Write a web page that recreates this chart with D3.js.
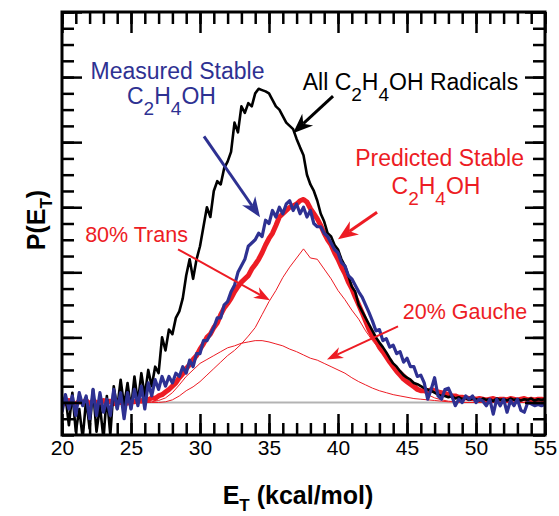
<!DOCTYPE html>
<html>
<head>
<meta charset="utf-8">
<script src="https://cdn.jsdelivr.net/npm/d3@7"></script>
<style>
  body { margin: 0; background: #fff; }
  svg { display: block; font-family: 'Liberation Sans', Arial, sans-serif; }
</style>
</head>
<body>
<script>
// energy grid for the measured curves, kcal/mol (0.25 steps)
const eFine = [
  20, 20.25, 20.5, 20.75, 21, 21.25, 21.5, 21.75, 22, 22.25, 22.5, 22.75,
  23, 23.25, 23.5, 23.75, 24, 24.25, 24.5, 24.75, 25, 25.25, 25.5, 25.75,
  26, 26.25, 26.5, 26.75, 27, 27.25, 27.5, 27.75, 28, 28.25, 28.5, 28.75,
  29, 29.25, 29.5, 29.75, 30, 30.25, 30.5, 30.75, 31, 31.25, 31.5, 31.75,
  32, 32.25, 32.5, 32.75, 33, 33.25, 33.5, 33.75, 34, 34.25, 34.5, 34.75,
  35, 35.25, 35.5, 35.75, 36, 36.25, 36.5, 36.75, 37, 37.25, 37.5, 37.75,
  38, 38.25, 38.5, 38.75, 39, 39.25, 39.5, 39.75, 40, 40.25, 40.5, 40.75,
  41, 41.25, 41.5, 41.75, 42, 42.25, 42.5, 42.75, 43, 43.25, 43.5, 43.75,
  44, 44.25, 44.5, 44.75, 45, 45.25, 45.5, 45.75, 46, 46.25, 46.5, 46.75,
  47, 47.25, 47.5, 47.75, 48, 48.25, 48.5, 48.75, 49, 49.25, 49.5, 49.75,
  50, 50.25, 50.5, 50.75, 51, 51.25, 51.5, 51.75, 52, 52.25, 52.5, 52.75,
  53, 53.25, 53.5, 53.75, 54, 54.25, 54.5, 54.75, 55
]

// grid for the two smooth predicted components (0.5 steps)
const eCoarse = [
  20, 20.5, 21, 21.5, 22, 22.5, 23, 23.5, 24, 24.5, 25, 25.5, 26, 26.5,
  27, 27.5, 28, 28.5, 29, 29.5, 30, 30.5, 31, 31.5, 32, 32.5, 33, 33.5,
  34, 34.5, 35, 35.5, 36, 36.5, 37, 37.5, 38, 38.5, 39, 39.5, 40, 40.5,
  41, 41.5, 42, 42.5, 43, 43.5, 44, 44.5, 45, 45.5, 46, 46.5, 47, 47.5,
  48, 48.5, 49, 49.5, 50, 50.5, 51, 51.5, 52, 52.5, 53, 53.5, 54, 54.5, 55
]

const allRadicals = [
  -0.10, 0.10, -0.35, 0.15,
  -0.45, -0.10, -0.55, 0.05,
  -0.40, 0.20, -0.45, -0.05,
  -0.55, 0.10, -0.50, 0.25,
  -0.10, 0.35, -0.05, 0.30,
  -0.10, 0.40, 0.00, 0.45,
  0.10, 0.50, 0.25, 0.55,
  0.45, 1.00, 0.80, 1.12,
  1.05, 1.30, 1.40, 1.60,
  1.95, 2.20, 1.90, 2.20,
  2.40, 2.70, 3.00, 2.85,
  3.25, 3.40, 3.35, 3.60,
  3.70, 3.85, 4.30, 4.15,
  4.55, 4.45, 4.60, 4.55,
  4.75, 4.82, 4.80, 4.78,
  4.75, 4.65, 4.55, 4.50,
  4.40, 4.30, 4.25, 4.20,
  4.05, 3.92, 3.80, 3.50,
  3.35, 3.25, 3.10, 2.90,
  2.78, 2.60, 2.55, 2.42,
  2.35, 2.20, 2.10, 1.95,
  1.78, 1.70, 1.50, 1.40,
  1.30, 1.20, 1.10, 1.00,
  0.92, 0.85, 0.77, 0.68,
  0.60, 0.55, 0.48, 0.42,
  0.38, 0.35, 0.30, 0.28,
  0.25, 0.22, 0.20, 0.18,
  0.15, 0.12, 0.10, 0.10,
  0.08, 0.10, 0.06, 0.08,
  0.05, 0.07, 0.04, 0.06,
  0.05, 0.03, 0.06, 0.04,
  0.05, 0.02, 0.06, 0.04,
  0.05, 0.03, 0.06, 0.04,
  0.05, 0.03, 0.05, 0.04,
  0.06, 0.03, 0.05, 0.04,
  0.05
]

const measuredStable = [
  -0.15, 0.12, -0.10, 0.10,
  -0.20, 0.15, -0.05, 0.10,
  -0.25, 0.20, -0.20, 0.15,
  -0.15, 0.05, -0.20, 0.20,
  -0.10, 0.15, -0.25, 0.15,
  -0.10, 0.20, -0.05, 0.25,
  -0.10, 0.30, 0.10, 0.35,
  0.20, 0.40, 0.25, 0.40,
  0.30, 0.45, 0.40, 0.55,
  0.45, 0.65, 0.55, 0.75,
  0.75, 0.95, 0.95, 1.05,
  1.15, 1.30, 1.30, 1.50,
  1.55, 1.70, 1.80, 2.00,
  2.10, 2.20, 2.40, 2.45,
  2.50, 2.60, 2.55, 2.80,
  2.75, 2.95, 2.85, 3.00,
  2.90, 3.05, 3.10, 2.95,
  3.05, 2.90, 3.00, 2.85,
  2.95, 2.75, 2.70, 2.70,
  2.60, 2.55, 2.45, 2.35,
  2.30, 2.15, 2.10, 1.95,
  1.90, 1.80, 1.70, 1.62,
  1.50, 1.38, 1.25, 1.10,
  1.12, 0.95, 0.98, 0.85,
  0.88, 0.75, 0.78, 0.62,
  0.68, 0.55, 0.55, 0.40,
  0.42, 0.30, 0.05, 0.20,
  0.38, 0.10, 0.05, 0.20,
  0.22, 0.10, -0.05, 0.05,
  0.00, 0.10, 0.05, 0.10,
  0.00, 0.05, 0.02, -0.05,
  0.05, -0.18, 0.05, -0.05,
  0.05, -0.15, 0.03, -0.05,
  0.05, -0.12, -0.15, 0.00,
  -0.02, -0.05, -0.03, -0.05,
  -0.03
]

const predictedStable = [
  0.02, -0.02, 0.03, 0.00,
  -0.03, 0.02, 0.00, 0.03,
  -0.02, 0.02, 0.00, -0.02,
  0.03, 0.00, 0.02, -0.02,
  0.03, 0.00, 0.02, -0.01,
  0.03, 0.01, 0.04, 0.02,
  0.05, 0.04, 0.07, 0.06,
  0.10, 0.12, 0.16, 0.20,
  0.25, 0.30, 0.38, 0.44,
  0.52, 0.58, 0.66, 0.72,
  0.82, 0.90, 1.00, 1.05,
  1.15, 1.22, 1.35, 1.45,
  1.52, 1.60, 1.70, 1.78,
  1.85, 1.90, 1.95, 2.05,
  2.12, 2.20, 2.30, 2.42,
  2.52, 2.60, 2.72, 2.85,
  2.90, 2.95, 3.00, 3.02,
  3.05, 3.10, 3.12, 3.08,
  2.98, 2.90, 2.82, 2.72,
  2.60, 2.50, 2.42, 2.30,
  2.20, 2.08, 1.98, 1.85,
  1.75, 1.62, 1.50, 1.38,
  1.25, 1.12, 1.02, 0.95,
  0.85, 0.78, 0.70, 0.62,
  0.55, 0.48, 0.42, 0.36,
  0.32, 0.28, 0.24, 0.20,
  0.18, 0.18, 0.16, 0.20,
  0.18, 0.16, 0.15, 0.14,
  0.12, 0.10, 0.10, 0.08,
  0.08, 0.07, 0.06, 0.06,
  0.05, 0.06, 0.05, 0.04,
  0.05, 0.06, 0.04, 0.05,
  0.05, 0.04, 0.06, 0.05,
  0.04, 0.05, 0.06, 0.04,
  0.05, 0.04, 0.05, 0.05,
  0.04
]

const trans80 = [
  0, 0, 0, 0, 0, 0, 0, 0, 0, 0, 0, 0, 0, 0,
  0, 0.01, 0.04, 0.10, 0.18, 0.24, 0.32, 0.42, 0.52, 0.62, 0.72, 0.80, 0.90, 1.02,
  1.15, 1.35, 1.55, 1.72, 1.92, 2.08, 2.22, 2.36, 2.22, 2.20, 2.05, 1.90, 1.72, 1.58,
  1.42, 1.28, 1.10, 0.95, 0.82, 0.72, 0.60, 0.50, 0.40, 0.30, 0.20, 0.12, 0.07, 0.04,
  0.02, 0.01, 0, 0, 0, 0, 0, 0, 0, 0, 0, 0, 0, 0, 0
]

const gauche20 = [
  0, 0, 0, 0, 0, 0, 0, 0, 0, 0, 0, 0, 0, 0.01,
  0.03, 0.07, 0.15, 0.27, 0.40, 0.50, 0.60, 0.66, 0.72, 0.78, 0.84, 0.87, 0.91, 0.93,
  0.95, 0.95, 0.93, 0.90, 0.87, 0.82, 0.78, 0.73, 0.68, 0.65, 0.60, 0.55, 0.50, 0.45,
  0.38, 0.32, 0.27, 0.22, 0.18, 0.15, 0.12, 0.10, 0.08, 0.06, 0.05, 0.04, 0.03, 0.02,
  0.01, 0.01, 0, 0, 0, 0, 0, 0, 0, 0, 0, 0, 0, 0, 0
]

const xTickLabels = [20, 25, 30, 35, 40, 45, 50, 55]

//colours
const blue = '#2e3192'
const red = '#ed1c24'

//dimensions of svg and plot frame
const width = 559
const height = 516
const frameLeft = 62
const frameRight = 545
const frameTop = 12
const frameBottom = 435

const xScale = d3.scaleLinear()
  .domain([20, 55])
  .range([frameLeft, frameRight])

const yScale = d3.scaleLinear()
  .domain([-0.5, 6])
  .range([frameBottom, frameTop])

let svg = d3.select('body')
  .append('svg')
  .attr('width', width)
  .attr('height', height)

svg.append('rect')
  .attr('width', width)
  .attr('height', height)
  .attr('fill', '#fff')

svg.append('clipPath')
  .attr('id', 'plot')
  .append('rect')
  .attr('x', frameLeft)
  .attr('y', frameTop)
  .attr('width', frameRight - frameLeft)
  .attr('height', frameBottom - frameTop)

const plot = svg.append('g').attr('clip-path', 'url(#plot)')

//zero line
plot.append('line')
  .attr('x1', xScale(20))
  .attr('x2', xScale(55))
  .attr('y1', yScale(0))
  .attr('y2', yScale(0))
  .attr('stroke', '#b3b3b3')
  .attr('stroke-width', 2)

const fineLine = d3.line()
  .x((d, i) => xScale(eFine[i]))
  .y((d) => yScale(d))

const coarseLine = d3.line()
  .x((d, i) => xScale(eCoarse[i]))
  .y((d) => yScale(d))

const drawCurve = (data, gen, color, w) => {
  plot.append('path')
    .datum(data)
    .attr('d', gen)
    .attr('fill', 'none')
    .attr('stroke', color)
    .attr('stroke-width', w)
    .attr('stroke-linejoin', 'round')
}

drawCurve(gauche20, coarseLine, red, 1)
drawCurve(trans80, coarseLine, red, 1)
drawCurve(predictedStable, fineLine, red, 5)
drawCurve(allRadicals, fineLine, '#000', 2.6)
drawCurve(measuredStable, fineLine, blue, 3.2)

//ticks pointing into the frame on all four sides
const tickStyle = (g) => {
  g.select('.domain').remove()
  g.selectAll('line').attr('stroke', '#000').attr('stroke-width', 2.5)
}

svg.append('g')
  .attr('transform', 'translate(0,' + frameBottom + ')')
  .call(d3.axisBottom(xScale).ticks(35).tickSize(-12).tickFormat(''))
  .call(tickStyle)
svg.append('g')
  .attr('transform', 'translate(0,' + frameBottom + ')')
  .call(d3.axisBottom(xScale).tickValues(xTickLabels).tickSize(-21).tickFormat(''))
  .call(tickStyle)
svg.append('g')
  .attr('transform', 'translate(0,' + frameTop + ')')
  .call(d3.axisTop(xScale).ticks(35).tickSize(-12).tickFormat(''))
  .call(tickStyle)
svg.append('g')
  .attr('transform', 'translate(0,' + frameTop + ')')
  .call(d3.axisTop(xScale).tickValues(xTickLabels).tickSize(-21).tickFormat(''))
  .call(tickStyle)

const yMinor = d3.range(-0.5, 6.01, 0.25)
const yMajor = d3.range(0, 6.01, 1)

svg.append('g')
  .attr('transform', 'translate(' + frameLeft + ',0)')
  .call(d3.axisLeft(yScale).tickValues(yMinor).tickSize(-12).tickFormat(''))
  .call(tickStyle)
svg.append('g')
  .attr('transform', 'translate(' + frameLeft + ',0)')
  .call(d3.axisLeft(yScale).tickValues(yMajor).tickSize(-20).tickFormat(''))
  .call(tickStyle)
svg.append('g')
  .attr('transform', 'translate(' + frameRight + ',0)')
  .call(d3.axisRight(yScale).tickValues(yMinor).tickSize(-12).tickFormat(''))
  .call(tickStyle)
svg.append('g')
  .attr('transform', 'translate(' + frameRight + ',0)')
  .call(d3.axisRight(yScale).tickValues(yMajor).tickSize(-20).tickFormat(''))
  .call(tickStyle)

//tick labels
svg.append('g')
  .attr('transform', 'translate(0,' + frameBottom + ')')
  .call(d3.axisBottom(xScale).tickValues(xTickLabels).tickSize(0).tickPadding(5))
  .call((g) => g.select('.domain').remove())
  .selectAll('text')
  .attr('font-family', "'Liberation Sans', Arial, sans-serif")
  .attr('font-size', '21px')
  .attr('fill', '#000')

//frame
svg.append('rect')
  .attr('x', frameLeft)
  .attr('y', frameTop)
  .attr('width', frameRight - frameLeft)
  .attr('height', frameBottom - frameTop)
  .attr('fill', 'none')
  .attr('stroke', '#000')
  .attr('stroke-width', 3)

//axis titles
let xTitle = svg.append('text')
  .attr('x', 298)
  .attr('y', 504)
  .attr('text-anchor', 'middle')
  .attr('font-weight', 'bold')
  .attr('font-size', '25px')
xTitle.append('tspan').text('E')
xTitle.append('tspan').attr('font-size', '17px').attr('dy', 7).text('T')
xTitle.append('tspan').attr('dy', -7).text(' (kcal/mol)')

let yTitle = svg.append('text')
  .attr('transform', 'translate(45,220) rotate(-90)')
  .attr('text-anchor', 'middle')
  .attr('font-weight', 'bold')
  .attr('font-size', '25px')
yTitle.append('tspan').text('P(E')
yTitle.append('tspan').attr('font-size', '17px').attr('dy', 7).text('T')
yTitle.append('tspan').attr('dy', -7).text(')')

//annotations, placed in data units; numbers in the list are subscripts
const label = (parts, e, p, color, size) => {
  let t = svg.append('text')
    .attr('x', xScale(e))
    .attr('y', yScale(p))
    .attr('text-anchor', 'middle')
    .attr('font-size', size + 'px')
    .attr('fill', color)
  let down = false
  parts.forEach((s) => {
    if (typeof s === 'number') {
      t.append('tspan').attr('dy', down ? 0 : 11).attr('font-size', (size - 4) + 'px').text(String(s))
      down = true
    } else {
      t.append('tspan').attr('dy', down ? -11 : 0).text(s)
      down = false
    }
  })
}

label(['Measured Stable'], 28.37, 4.97, blue, 23)
label(['C', 2, 'H', 4, 'OH'], 27.93, 4.585, blue, 23)
label(['All C', 2, 'H', 4, 'OH Radicals'], 45.25, 4.8, '#000', 23)
label(['Predicted Stable'], 47.36, 3.63, red, 23)
label(['C', 2, 'H', 4, 'OH'], 47.1, 3.2, red, 23)
label(['80% Trans'], 25.4, 2.46, red, 21.5)
label(['20% Gauche'], 49.2, 1.29, red, 21.5)

const arrow = (e0, p0, e1, p1, color, w, len, half) => {
  const x0 = xScale(e0), y0 = yScale(p0)
  const x1 = xScale(e1), y1 = yScale(p1)
  const ang = Math.atan2(y1 - y0, x1 - x0)
  const ux = Math.cos(ang), uy = Math.sin(ang)
  const nx = -uy, ny = ux
  svg.append('line')
    .attr('x1', x0).attr('y1', y0)
    .attr('x2', x1 - ux * len * 0.7).attr('y2', y1 - uy * len * 0.7)
    .attr('stroke', color)
    .attr('stroke-width', w)
  const bx = x1 - ux * len, by = y1 - uy * len
  const mx = x1 - ux * len * 0.7, my = y1 - uy * len * 0.7
  svg.append('path')
    .attr('d', 'M' + x1 + ',' + y1 +
      'L' + (bx + nx * half) + ',' + (by + ny * half) +
      'L' + mx + ',' + my +
      'L' + (bx - nx * half) + ',' + (by - ny * half) + 'Z')
    .attr('fill', color)
}

arrow(30.29, 4.09, 34.35, 2.846, blue, 3, 20, 8)
arrow(39.64, 4.708, 36.74, 4.138, '#000', 3, 20, 8)
arrow(42.83, 2.923, 40.0, 2.508, red, 3, 20, 8)
arrow(28.41, 2.354, 35.07, 1.569, red, 2, 16, 6)
arrow(44.35, 1.169, 39.2, 0.662, red, 2, 16, 6)
</script>
</body>
</html>
